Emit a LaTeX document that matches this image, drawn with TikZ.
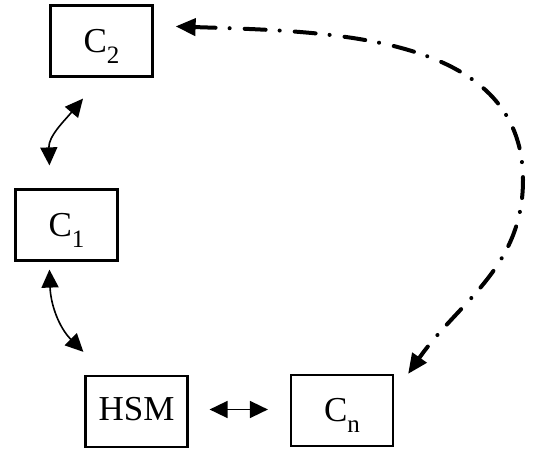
\documentclass[tikz,border=0pt]{standalone}
\usepackage{fontspec}
\setmainfont{Liberation Serif}
\usetikzlibrary{arrows.meta}
\newcommand{\comp}[1]{C\raisebox{-11pt}[0pt][0pt]{\fontsize{25}{25}\selectfont #1}}

\begin{document}
\begin{tikzpicture}[x=1pt, y=1pt,
    box/.style={draw, line width=2.2pt, inner sep=0pt, minimum width=102pt,
      minimum height=71pt, font=\fontsize{35}{40}\selectfont},
    link/.style={line width=1.6pt,
      {Triangle[length=18pt,width=17pt]}-{Triangle[length=18pt,width=17pt]}},
    token/.style={line width=4pt, line cap=round,
      dash pattern=on 21pt off 14pt on 0.1pt off 15pt,
      {Triangle[length=20pt,width=17pt]}-{Triangle[length=20pt,width=17pt]}}]
  \useasboundingbox (0,0) rectangle (536,450);
  \node [box] (c2) at (101.5,409) {\comp{2}};
  \node [box] (c1) at (66.5,225) {\comp{1}};
  \node [box, text depth=5pt] (hsm) at (136.5,38.5) {HSM};
  \node [box] (cn) at (342,39.5) {\comp{n}};
  \coordinate (bend) at (523,270);
  \draw [link] ([yshift=23pt]c1.115) to[out=92,in=230]
    ([xshift=-18.5pt,yshift=-21pt]c2.south);
  \draw [link] ([yshift=-8pt]c1.245) to[out=-88,in=135]
    ([xshift=-1pt,yshift=23pt]hsm.north west);
  \draw [link] ([xshift=21pt,yshift=2pt]hsm.east) -- ([xshift=-22pt,yshift=1pt]cn.west);
  \draw [token] ([xshift=22pt,yshift=-22pt]c2.north east) to[out=-2,in=90] (bend)
    to[out=-90,in=55] ([xshift=14pt]cn.north east);
\end{tikzpicture}
\end{document}
